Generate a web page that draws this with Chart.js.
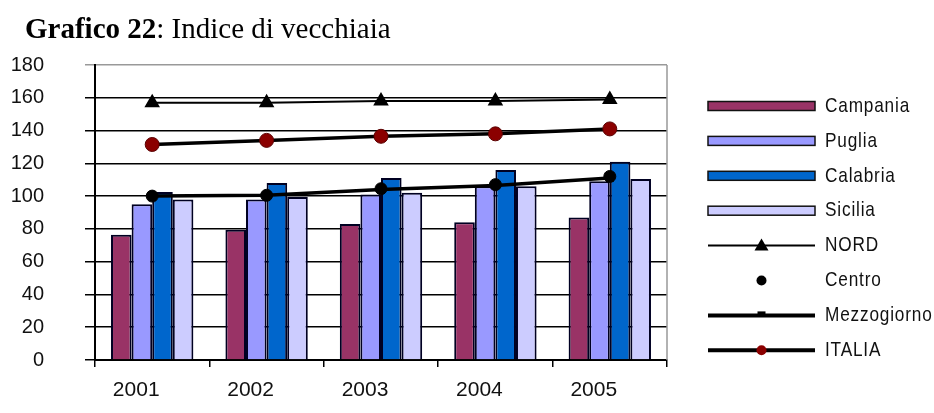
<!DOCTYPE html>
<html>
<head>
<meta charset="utf-8">
<script src="https://cdn.jsdelivr.net/npm/chart.js@4.4.0/dist/chart.umd.min.js"></script>
<style>
  body { margin: 0; background: #fff; }
  .wrap { position: relative; width: 934px; height: 413px; }
  .titolo {
    position: absolute; left: 25px; top: 14px;
    font-family: "Liberation Serif", "Times New Roman", serif;
    font-size: 29px; line-height: 29px; color: #000; white-space: nowrap;
  }
  #myChart { position: absolute; left: 0; top: 0; }
</style>
</head>
<body>
<div class="wrap">
  <canvas id="myChart" width="934" height="413"></canvas>
  <div class="titolo"><b>Grafico 22</b>: Indice di vecchiaia</div>
</div>
<script>
// ----dati
var anni = ['2001', '2002', '2003', '2004', '2005'];
var campania = [76.5, 79.5, 83, 84, 87];
var puglia = [95, 98, 101, 106, 109];
var calabria = [102.5, 108, 111, 116, 121];
var sicilia = [98, 99.5, 102, 106, 110.5];
var nord = [157, 157, 158, 158, 159];
var centro = [100, 100.5, 104.5, 107, 112];
var mezzogiorno = [100, 100.5, 104, 106.5, 111];
var italia = [131.5, 134, 136.5, 138, 141];
var yTicks = [0, 20, 40, 60, 80, 100, 120, 140, 160, 180];

var fontAssi = { family: 'Liberation Sans, Arial, sans-serif', size: 20 };

function barra(label, data, colore) {
  return {
    type: 'bar', label: label, data: data, order: 2,
    backgroundColor: colore, borderColor: '#000022', borderWidth: 2
  };
}

// -----------legenda disegnata a mano
var legenda = {
  id: 'legenda',
  afterDraw: function (chart) {
    var c = chart.ctx;
    var x0 = 708, x1 = 815, y0 = 106, passo = 34.9;
    c.save();
    chart.data.datasets.forEach(function (ds, i) {
      var y = y0 + i * passo;
      var xm = (x0 + x1) / 2;
      if (ds.type === 'bar') {
        c.fillStyle = ds.backgroundColor;
        c.fillRect(x0, y - 4.5, x1 - x0, 9);
        c.strokeStyle = '#111';
        c.lineWidth = 1.5;
        c.strokeRect(x0, y - 4.5, x1 - x0, 9);
      } else {
        if (ds.showLine !== false) {
          c.strokeStyle = '#000';
          c.lineWidth = ds.legendWidth;
          c.beginPath(); c.moveTo(x0, y); c.lineTo(x1, y); c.stroke();
        }
        c.fillStyle = ds.pointBackgroundColor;
        c.beginPath();
        if (ds.pointStyle === 'triangle') {
          c.moveTo(xm, y - 7); c.lineTo(xm + 7, y + 5); c.lineTo(xm - 7, y + 5);
        } else if (ds.pointStyle === 'circle') {
          c.arc(xm, y, 5, 0, Math.PI * 2);
        } else {
          c.rect(xm - 4, y - 4, 8, 5);
        }
        c.fill();
      }
      // testo stretto come nell'originale
      c.save();
      c.translate(825, y);
      c.scale(0.82, 1);
      c.fillStyle = '#111';
      c.font = '21px "Liberation Sans", Arial, sans-serif';
      c.letterSpacing = '1px';
      c.textBaseline = 'middle';
      c.fillText(ds.label, 0, 0);
      c.restore();
    });
    c.restore();
  }
};

// ----bordo grigio destro
var bordo = {
  id: 'bordo',
  beforeDatasetsDraw: function (chart) {
    var a = chart.chartArea, c = chart.ctx;
    c.save();
    c.strokeStyle = '#999';
    c.lineWidth = 1.5;
    c.beginPath(); c.moveTo(a.right, a.top); c.lineTo(a.right, a.bottom); c.stroke();
    c.restore();
  }
};

var ctx = document.getElementById('myChart');
var myChart = new Chart(ctx, {
  type: 'bar',
  data: {
    labels: anni,
    datasets: [
      barra('Campania', campania, '#993366'),
      barra('Puglia', puglia, '#9999ff'),
      barra('Calabria', calabria, '#0066cc'),
      barra('Sicilia', sicilia, '#ccccff'),
      {
        type: 'line', label: 'NORD', data: nord, order: 1,
        borderColor: '#000', borderWidth: 2, legendWidth: 2,
        pointStyle: 'triangle', pointRadius: 7,
        pointBackgroundColor: '#000', pointBorderColor: '#000'
      },
      {
        type: 'line', label: 'Centro', data: centro, order: 0, showLine: false,
        pointStyle: 'circle', pointRadius: 6,
        pointBackgroundColor: '#000', pointBorderColor: '#000'
      },
      {
        type: 'line', label: 'Mezzogiorno', data: mezzogiorno, order: 1,
        borderColor: '#000', borderWidth: 3.5, legendWidth: 4,
        pointStyle: 'rect', pointRadius: 3,
        pointBackgroundColor: '#000', pointBorderColor: '#000'
      },
      {
        type: 'line', label: 'ITALIA', data: italia, order: 1,
        borderColor: '#000', borderWidth: 3.5, legendWidth: 4,
        pointStyle: 'circle', pointRadius: 7,
        pointBackgroundColor: '#8b0000', pointBorderColor: '#5a0000', pointBorderWidth: 1
      }
    ]
  },
  options: {
    responsive: false,
    animation: false,
    categoryPercentage: 0.72,
    barPercentage: 1.0,
    layout: { padding: { top: 65, right: 267, bottom: 0, left: 0 } },
    plugins: { legend: { display: false }, tooltip: { enabled: false } },
    scales: {
      x: {
        afterFit: function (s) { s.height = 43; },
        border: { color: '#000', width: 2 },
        grid: { offset: true, drawOnChartArea: false, color: '#000', lineWidth: 1.5, tickLength: 7 },
        ticks: { color: '#111', font: { family: fontAssi.family, size: 21 }, padding: 11, labelOffset: -16 }
      },
      y: {
        min: 0, max: 180,
        afterFit: function (s) { s.width = 95; },
        afterBuildTicks: function (s) { s.ticks = yTicks.map(function (v) { return { value: v }; }); },
        border: { color: '#000', width: 2 },
        grid: {
          color: function (c) { return c.tick && c.tick.value === 180 ? '#999' : '#000'; },
          lineWidth: 1.5, tickLength: 10
        },
        ticks: { color: '#111', font: fontAssi, padding: 41 }
      }
    }
  },
  plugins: [bordo, legenda]
});
</script>
</body>
</html>
